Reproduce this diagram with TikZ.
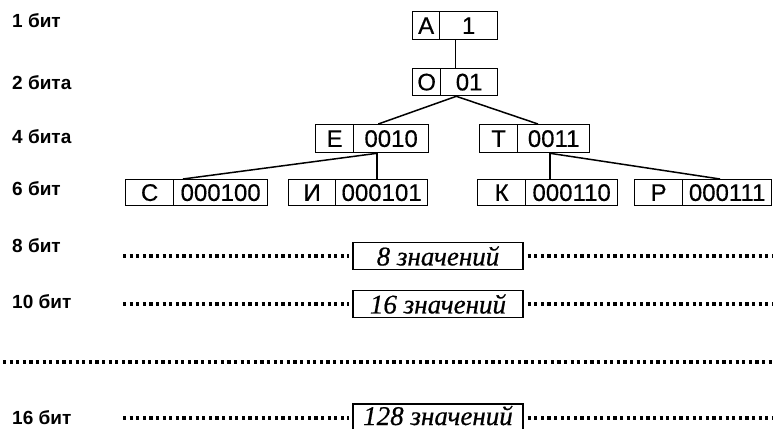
\documentclass[tikz,border=0pt]{standalone}
\usepackage{fontspec}
\setmainfont{Liberation Sans}
\newfontfamily\serifit[FakeBold=0.6]{Liberation Serif Italic}
\newfontfamily\cellfont[FakeBold=0.4]{Liberation Sans}
\begin{document}
\begin{tikzpicture}[x=1pt,y=-1pt,
 cell/.style={draw, line width=1.3pt, inner sep=0pt, anchor=north west, font=\cellfont\fontsize{24}{24}\selectfont},
 lbl/.style={anchor=west, inner sep=0pt, font=\bfseries\fontsize{19}{19}\selectfont},
 conn/.style={line width=1.5pt},
 dotline/.style={line width=3.2pt, dash pattern=on 3.2pt off 3.4pt},
 valbox/.style={draw, line width=1.3pt, inner sep=0pt, minimum width=170pt, minimum height=27pt, font=\serifit\fontsize{27}{27}\selectfont}]
\useasboundingbox (0,0) rectangle (773,428);

% left labels
\node[lbl] (l1) at (12,21) {1 бит};
\node[lbl] (l2) at (12,83) {2 бита};
\node[lbl] (l4) at (12,137) {4 бита};
\node[lbl] (l6) at (12,189) {6 бит};
\node[lbl] (l8) at (12,246) {8 бит};
\node[lbl] (l10) at (12,302) {10 бит};
\node[lbl] (l16) at (12,418) {16 бит};

% code boxes
\node[cell, minimum width=27pt, minimum height=28pt] (Ak) at (412,11) {А};
\node[cell, minimum width=58pt, minimum height=28pt] (Av) at (439,11) {1};
\node[cell, minimum width=28pt, minimum height=27pt] (Ok) at (412,68) {О};
\node[cell, minimum width=57pt, minimum height=27pt] (Ov) at (440,68) {01};
\node[cell, minimum width=38pt, minimum height=28pt] (Ek) at (315,124) {Е};
\node[cell, minimum width=75pt, minimum height=28pt] (Ev) at (353,124) {0010};
\node[cell, minimum width=38pt, minimum height=28pt] (Tk) at (479,124) {Т};
\node[cell, minimum width=72pt, minimum height=28pt] (Tv) at (517,124) {0011};
\node[cell, minimum width=48pt, minimum height=26pt] (Ck) at (125,179) {С};
\node[cell, minimum width=94pt, minimum height=26pt] (Cv) at (173,179) {000100};
\node[cell, minimum width=47pt, minimum height=26pt] (Ik) at (288,179) {И};
\node[cell, minimum width=92pt, minimum height=26pt] (Iv) at (335,179) {000101};
\node[cell, minimum width=48pt, minimum height=26pt] (Kk) at (477,179) {К};
\node[cell, minimum width=92pt, minimum height=26pt] (Kv) at (525,179) {000110};
\node[cell, minimum width=48pt, minimum height=26pt] (Pk) at (634,179) {Р};
\node[cell, minimum width=89pt, minimum height=26pt] (Pv) at (682,179) {000111};

% connectors
\draw[conn] ([xshift=15pt]Ak.south east) -- ([xshift=14pt]Ok.north east);
\draw[conn] ([xshift=15pt]Ok.south east) -- ([xshift=24pt]Ek.north east);
\draw[conn] ([xshift=15pt]Ok.south east) -- ([xshift=21pt]Tv.north west);
\draw[conn] ([xshift=24pt]Ev.south west) -- ([xshift=10pt]Cv.north west);
\draw[conn] ([xshift=24pt]Ev.south west) -- ([xshift=42pt]Iv.north west);
\draw[conn] ([xshift=33pt]Tv.south west) -- ([xshift=25pt]Kv.north west);
\draw[conn] ([xshift=33pt]Tv.south west) -- ([xshift=38pt]Pv.north west);

% value rows
\node[valbox] (b8) at (438,256) {8 значений};
\coordinate (d8l) at (123,256);
\coordinate (d8r) at (773,256);
\draw[dotline] (d8l) -- ([xshift=-3pt]b8.west);
\draw[dotline] ([xshift=4pt]b8.east) -- (d8r);

\node[valbox] (b16) at (438,304) {16 значений};
\coordinate (d16l) at (123,304);
\coordinate (d16r) at (773,304);
\draw[dotline] (d16l) -- ([xshift=-3pt]b16.west);
\draw[dotline] ([xshift=4pt]b16.east) -- (d16r);

\coordinate (fl) at (3,362);
\coordinate (fr) at (773,362);
\draw[dotline] (fl) -- (fr);

\node[valbox, minimum height=32pt, text height=18pt, text depth=8pt] (b128) at (438,420) {128 значений};
\coordinate (d128l) at (123,418);
\coordinate (d128r) at (773,418);
\draw[dotline] (d128l) -- ([xshift=-3pt]b128.west |- d128l);
\draw[dotline] ([xshift=4pt]b128.east |- d128r) -- (d128r);
\end{tikzpicture}
\end{document}
